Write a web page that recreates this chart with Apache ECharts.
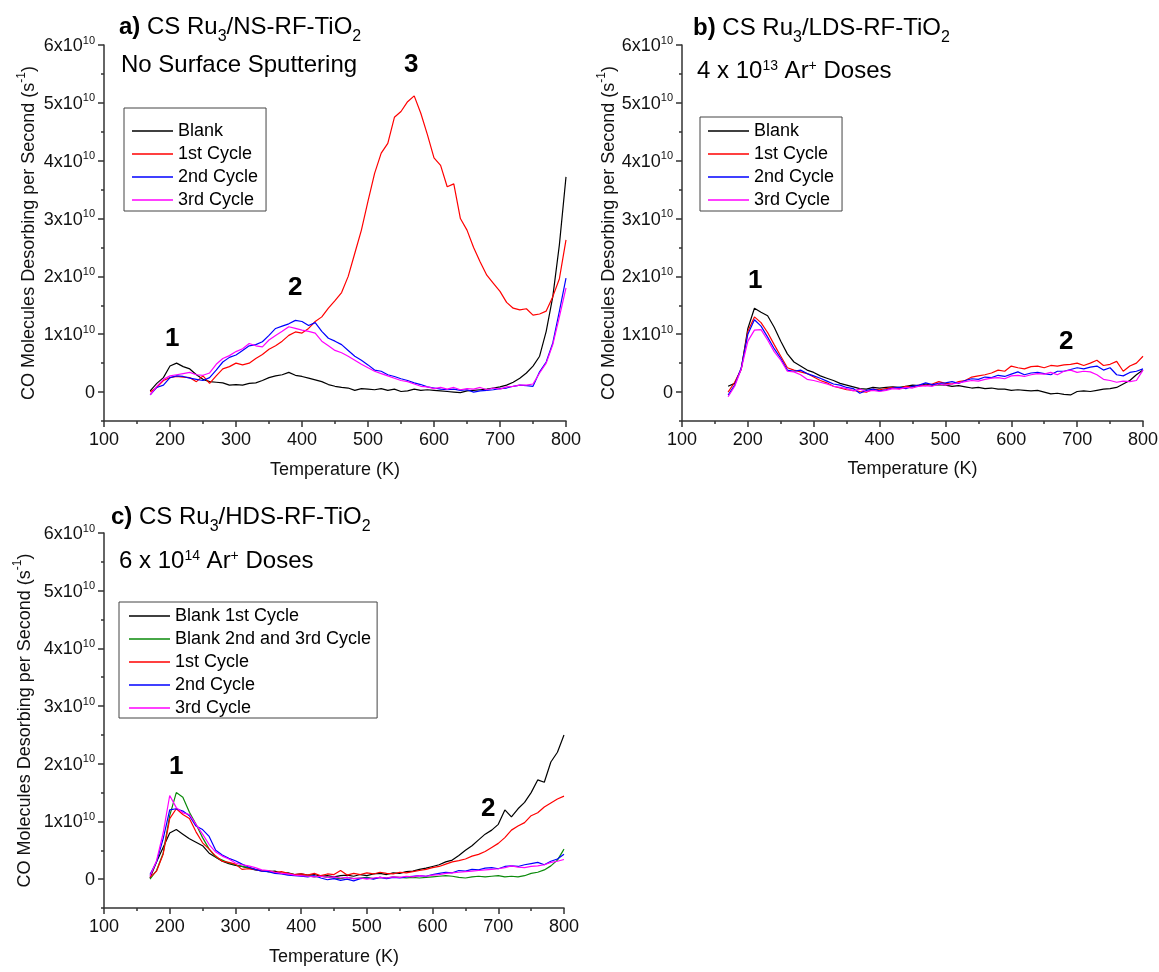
<!DOCTYPE html>
<html>
<head>
<meta charset="utf-8">
<script src="https://cdn.jsdelivr.net/npm/echarts@6/dist/echarts.min.js"></script>
<style>
html, body { margin: 0; padding: 0; background: #fff; }
#chart { width: 1159px; height: 972px; }
</style>
</head>
<body>
<div id="chart"></div>
<script>
// Temperature (K) at which each desorption rate was sampled
const temperatures = [
  170, 180, 190, 200, 210, 220, 230, 240, 250, 260,
  270, 280, 290, 300, 310, 320, 330, 340, 350, 360,
  370, 380, 390, 400, 410, 420, 430, 440, 450, 460,
  470, 480, 490, 500, 510, 520, 530, 540, 550, 560,
  570, 580, 590, 600, 610, 620, 630, 640, 650, 660,
  670, 680, 690, 700, 710, 720, 730, 740, 750, 760,
  770, 780, 790, 800
];

// CO molecules desorbing per second, in units of 1x10^10 s^-1
// a) CS Ru3/NS-RF-TiO2, no surface sputtering
const nsBlank = [
  0.02, 0.15, 0.25, 0.45, 0.50, 0.44, 0.40, 0.30, 0.22, 0.18,
  0.17, 0.16, 0.12, 0.13, 0.12, 0.15, 0.16, 0.20, 0.25, 0.28,
  0.30, 0.34, 0.29, 0.27, 0.24, 0.21, 0.18, 0.13, 0.10, 0.08,
  0.07, 0.03, 0.06, 0.05, 0.04, 0.06, 0.03, 0.05, 0.01, 0.02,
  0.05, 0.03, 0.04, 0.03, 0.02, 0.01, 0.00, -0.01, 0.02, 0.03,
  0.04, 0.05, 0.07, 0.09, 0.12, 0.17, 0.24, 0.33, 0.45, 0.62,
  1.05, 1.65, 2.55, 3.72
];
const nsCycle1 = [
  0.00, 0.08, 0.20, 0.25, 0.27, 0.26, 0.25, 0.18, 0.28, 0.15,
  0.28, 0.40, 0.44, 0.50, 0.47, 0.50, 0.58, 0.65, 0.74, 0.80,
  0.88, 0.98, 1.04, 1.02, 1.10, 1.22, 1.30, 1.45, 1.58, 1.72,
  2.00, 2.40, 2.80, 3.30, 3.78, 4.13, 4.30, 4.75, 4.85, 5.02,
  5.12, 4.82, 4.45, 4.05, 3.92, 3.55, 3.60, 3.00, 2.80, 2.50,
  2.25, 2.02, 1.88, 1.74, 1.55, 1.45, 1.42, 1.44, 1.33, 1.35,
  1.40, 1.65, 1.96, 2.63
];
const nsCycle2 = [
  -0.05, 0.08, 0.12, 0.25, 0.28, 0.27, 0.24, 0.22, 0.20, 0.25,
  0.38, 0.52, 0.60, 0.64, 0.72, 0.80, 0.82, 0.87, 0.98, 1.10,
  1.14, 1.18, 1.24, 1.22, 1.15, 1.20, 1.05, 0.93, 0.88, 0.82,
  0.72, 0.62, 0.55, 0.47, 0.38, 0.36, 0.30, 0.27, 0.23, 0.20,
  0.16, 0.13, 0.09, 0.07, 0.05, 0.04, 0.05, 0.03, 0.04, 0.00,
  0.02, 0.03, 0.04, 0.06, 0.07, 0.10, 0.12, 0.11, 0.10, 0.35,
  0.52, 0.85, 1.40, 1.97
];
const nsCycle3 = [
  -0.05, 0.10, 0.22, 0.28, 0.30, 0.32, 0.34, 0.30, 0.29, 0.33,
  0.48, 0.58, 0.63, 0.70, 0.75, 0.84, 0.80, 0.78, 0.90, 0.98,
  1.05, 1.13, 1.10, 1.07, 1.05, 1.02, 0.88, 0.80, 0.72, 0.68,
  0.62, 0.55, 0.48, 0.42, 0.36, 0.32, 0.28, 0.24, 0.20, 0.18,
  0.14, 0.10, 0.09, 0.06, 0.08, 0.05, 0.08, 0.04, 0.06, 0.05,
  0.08, 0.04, 0.07, 0.05, 0.09, 0.10, 0.12, 0.12, 0.14, 0.33,
  0.50, 0.82, 1.30, 1.80
];

// b) CS Ru3/LDS-RF-TiO2, 4 x 10^13 Ar+ doses
const ldsBlank = [
  0.10, 0.15, 0.40, 1.10, 1.45, 1.38, 1.32, 1.12, 0.88, 0.66,
  0.52, 0.45, 0.38, 0.34, 0.28, 0.24, 0.20, 0.15, 0.12, 0.09,
  0.06, 0.05, 0.08, 0.07, 0.08, 0.09, 0.08, 0.10, 0.12, 0.11,
  0.14, 0.12, 0.13, 0.12, 0.10, 0.11, 0.09, 0.07, 0.08, 0.06,
  0.07, 0.05, 0.05, 0.03, 0.04, 0.03, 0.02, 0.03, 0.00, -0.03,
  -0.02, -0.04, -0.05, 0.01, 0.02, 0.01, 0.03, 0.05, 0.06, 0.08,
  0.14, 0.20, 0.30, 0.38
];
const ldsCycle1 = [
  0.00, 0.17, 0.40, 1.05, 1.30, 1.20, 1.03, 0.82, 0.62, 0.42,
  0.38, 0.35, 0.32, 0.26, 0.20, 0.16, 0.10, 0.07, 0.04, 0.03,
  0.01, 0.00, 0.05, 0.04, 0.06, 0.08, 0.06, 0.10, 0.09, 0.12,
  0.11, 0.14, 0.18, 0.15, 0.14, 0.18, 0.20, 0.26, 0.28, 0.30,
  0.33, 0.38, 0.36, 0.45, 0.42, 0.40, 0.44, 0.45, 0.42, 0.46,
  0.45, 0.47, 0.48, 0.50, 0.46, 0.50, 0.55, 0.46, 0.48, 0.53,
  0.36, 0.45, 0.50, 0.62
];
const ldsCycle2 = [
  -0.05, 0.12, 0.42, 1.00, 1.25, 1.14, 0.95, 0.75, 0.58, 0.38,
  0.36, 0.38, 0.32, 0.28, 0.24, 0.19, 0.14, 0.12, 0.08, 0.06,
  -0.02, 0.03, 0.05, 0.02, 0.04, 0.07, 0.08, 0.06, 0.10, 0.12,
  0.16, 0.13, 0.15, 0.16, 0.18, 0.15, 0.20, 0.23, 0.22, 0.26,
  0.25, 0.29, 0.27, 0.31, 0.35, 0.30, 0.33, 0.34, 0.32, 0.30,
  0.36, 0.36, 0.39, 0.42, 0.40, 0.43, 0.45, 0.38, 0.42, 0.30,
  0.28, 0.34, 0.36, 0.40
];
const ldsCycle3 = [
  -0.08, 0.10, 0.40, 0.88, 1.07, 1.08, 0.90, 0.70, 0.55, 0.36,
  0.35, 0.30, 0.22, 0.20, 0.17, 0.14, 0.10, 0.08, 0.06, 0.02,
  0.05, 0.01, 0.03, 0.01, 0.03, 0.06, 0.05, 0.08, 0.07, 0.10,
  0.11, 0.10, 0.14, 0.12, 0.14, 0.16, 0.18, 0.20, 0.19, 0.22,
  0.24, 0.25, 0.23, 0.28, 0.29, 0.27, 0.30, 0.32, 0.31, 0.34,
  0.30, 0.36, 0.38, 0.34, 0.36, 0.35, 0.30, 0.22, 0.20, 0.17,
  0.19, 0.18, 0.20, 0.38
];

// c) CS Ru3/HDS-RF-TiO2, 6 x 10^14 Ar+ doses
const hdsBlank1 = [
  0.02, 0.30, 0.55, 0.80, 0.86, 0.78, 0.70, 0.64, 0.58, 0.45,
  0.38, 0.31, 0.27, 0.24, 0.22, 0.19, 0.16, 0.15, 0.13, 0.14,
  0.10, 0.11, 0.08, 0.09, 0.07, 0.08, 0.05, 0.06, 0.04, 0.06,
  0.07, 0.05, 0.08, 0.06, 0.09, 0.10, 0.08, 0.11, 0.10, 0.13,
  0.14, 0.17, 0.19, 0.22, 0.25, 0.30, 0.33, 0.41, 0.50, 0.58,
  0.68, 0.78, 0.85, 0.95, 1.20, 1.08, 1.22, 1.33, 1.50, 1.72,
  1.68, 2.03, 2.20, 2.50
];
const hdsBlank23 = [
  0.00, 0.15, 0.45, 1.10, 1.50, 1.42, 1.16, 0.95, 0.72, 0.52,
  0.38, 0.33, 0.28, 0.25, 0.22, 0.20, 0.17, 0.15, 0.13, 0.12,
  0.10, 0.09, 0.08, 0.06, 0.06, 0.04, 0.05, 0.03, 0.02, 0.01,
  0.03, 0.01, 0.02, 0.03, 0.01, 0.03, 0.02, 0.04, 0.03, 0.02,
  0.03, 0.02, 0.03, 0.04, 0.05, 0.06, 0.05, 0.03, 0.02, 0.04,
  0.05, 0.04, 0.05, 0.06, 0.04, 0.05, 0.04, 0.06, 0.10, 0.12,
  0.16, 0.23, 0.33, 0.52
];
const hdsCycle1 = [
  0.03, 0.14, 0.43, 1.05, 1.22, 1.12, 1.05, 0.82, 0.63, 0.52,
  0.40, 0.31, 0.29, 0.26, 0.17, 0.18, 0.17, 0.14, 0.15, 0.12,
  0.13, 0.10, 0.08, 0.09, 0.07, 0.10, 0.06, 0.09, 0.08, 0.15,
  0.07, 0.10, 0.08, 0.11, 0.09, 0.12, 0.10, 0.09, 0.12, 0.11,
  0.13, 0.15, 0.17, 0.20, 0.22, 0.26, 0.30, 0.32, 0.35, 0.40,
  0.43, 0.48, 0.55, 0.62, 0.72, 0.85, 0.92, 0.98, 1.10, 1.15,
  1.25, 1.32, 1.39, 1.44
];
const hdsCycle2 = [
  0.08, 0.30, 0.70, 1.20, 1.22, 1.18, 1.10, 0.92, 0.86, 0.74,
  0.50, 0.42, 0.36, 0.32, 0.26, 0.21, 0.17, 0.14, 0.13, 0.10,
  0.09, 0.07, 0.06, 0.05, 0.04, 0.06, 0.02, -0.01, 0.01, -0.02,
  0.00, -0.03, 0.01, 0.02, 0.00, 0.03, 0.01, 0.03, 0.02, 0.04,
  0.05, 0.06, 0.05, 0.08, 0.10, 0.12, 0.11, 0.15, 0.14, 0.17,
  0.16, 0.19, 0.20, 0.18, 0.22, 0.23, 0.22, 0.25, 0.27, 0.29,
  0.25, 0.31, 0.35, 0.43
];
const hdsCycle3 = [
  0.05, 0.32, 0.80, 1.45, 1.24, 1.15, 1.12, 0.95, 0.78, 0.60,
  0.47, 0.40, 0.35, 0.28, 0.25, 0.23, 0.20, 0.16, 0.15, 0.12,
  0.10, 0.09, 0.07, 0.06, 0.05, 0.04, 0.05, 0.03, 0.04, 0.02,
  0.03, 0.01, 0.02, 0.00, 0.02, 0.03, 0.02, 0.04, 0.03, 0.05,
  0.04, 0.06, 0.05, 0.07, 0.08, 0.10, 0.11, 0.12, 0.13, 0.14,
  0.15, 0.16, 0.17, 0.18, 0.20, 0.23, 0.21, 0.20, 0.22, 0.23,
  0.25, 0.29, 0.31, 0.34
];

// Axis ticks
const xTickLabels = [100, 200, 300, 400, 500, 600, 700, 800];
const yTickLabels = [0, 1, 2, 3, 4, 5, 6];

const FONT = '"Liberation Sans", Arial, sans-serif';
const AXIS_COLOR = '#333';
const TEXT_COLOR = '#111';

const COLORS = {
  black: '#000000',
  green: '#0a8a0a',
  red: '#ff0000',
  blue: '#0000ff',
  magenta: '#ff00ff'
};

const panels = [
  {
    grid: { left: 104, top: 45, width: 462, height: 376 },
    yNameGap: 66, xNameGap: 40,
    legend: { left: 124, top: 108, padding: [14, 8, 2, 8] },
    lines: [
      ['Blank', nsBlank, COLORS.black],
      ['1st Cycle', nsCycle1, COLORS.red],
      ['2nd Cycle', nsCycle2, COLORS.blue],
      ['3rd Cycle', nsCycle3, COLORS.magenta]
    ]
  },
  {
    grid: { left: 682, top: 45, width: 461, height: 376 },
    yNameGap: 60, xNameGap: 39,
    legend: { left: 700, top: 117, padding: [5, 8, 2, 8] },
    lines: [
      ['Blank', ldsBlank, COLORS.black],
      ['1st Cycle', ldsCycle1, COLORS.red],
      ['2nd Cycle', ldsCycle2, COLORS.blue],
      ['3rd Cycle', ldsCycle3, COLORS.magenta]
    ]
  },
  {
    grid: { left: 104, top: 533, width: 460, height: 375 },
    yNameGap: 70, xNameGap: 40,
    legend: { left: 119, top: 602, padding: [5, 6, 1, 10] },
    lines: [
      ['Blank 1st Cycle', hdsBlank1, COLORS.black],
      ['Blank 2nd and 3rd Cycle', hdsBlank23, COLORS.green],
      ['1st Cycle', hdsCycle1, COLORS.red],
      ['2nd Cycle', hdsCycle2, COLORS.blue],
      ['3rd Cycle', hdsCycle3, COLORS.magenta]
    ]
  }
];

const grids = [];
const xAxes = [];
const yAxes = [];
const series = [];
const legends = [];

panels.forEach((p, i) => {
  grids.push(Object.assign({ outerBoundsMode: 'none', containLabel: false }, p.grid));

  // main x axis: line, long ticks, labels, title
  xAxes.push({
    gridIndex: i, type: 'value', min: 100, max: 800, interval: 50,
    axisLine: { show: true, onZero: false, lineStyle: { color: AXIS_COLOR, width: 1.5 } },
    axisTick: { show: true, customValues: xTickLabels, length: 6, lineStyle: { color: AXIS_COLOR, width: 1.5 } },
    axisLabel: { customValues: xTickLabels, margin: 10, fontSize: 18, fontFamily: FONT, color: TEXT_COLOR },
    splitLine: { show: false },
    name: 'Temperature (K)', nameLocation: 'middle', nameGap: p.xNameGap,
    nameTextStyle: { fontSize: 18, fontFamily: FONT, color: TEXT_COLOR }
  });
  // minor x ticks every 50 K
  xAxes.push({
    gridIndex: i, type: 'value', min: 100, max: 800, interval: 50, position: 'bottom',
    axisLine: { show: false, onZero: false },
    axisTick: { show: true, length: 3, lineStyle: { color: AXIS_COLOR, width: 1.5 } },
    axisLabel: { show: false }, splitLine: { show: false }
  });

  yAxes.push({
    gridIndex: i, type: 'value', min: -0.5, max: 6, interval: 0.5,
    axisLine: { show: true, onZero: false, lineStyle: { color: AXIS_COLOR, width: 1.5 } },
    axisTick: { show: true, customValues: yTickLabels, length: 6, lineStyle: { color: AXIS_COLOR, width: 1.5 } },
    axisLabel: {
      customValues: yTickLabels, margin: 9,
      formatter: v => (v === 0 ? '{m|0}' : '{m|' + v + 'x10}{s|10}'),
      rich: {
        m: { fontSize: 18, lineHeight: 20, verticalAlign: 'bottom', fontFamily: FONT, color: TEXT_COLOR },
        s: { fontSize: 11, lineHeight: 11, verticalAlign: 'top', fontFamily: FONT, color: TEXT_COLOR }
      }
    },
    splitLine: { show: false },
    name: '{n|CO Molecules Desorbing per Second (s}{s|-1}{n|)}',
    nameLocation: 'middle', nameGap: p.yNameGap,
    nameTextStyle: {
      rich: {
        n: { fontSize: 18, lineHeight: 22, verticalAlign: 'bottom', fontFamily: FONT, color: TEXT_COLOR },
        s: { fontSize: 12, lineHeight: 12, verticalAlign: 'top', fontFamily: FONT, color: TEXT_COLOR }
      }
    }
  });
  // minor y ticks every 0.5 x10^10
  yAxes.push({
    gridIndex: i, type: 'value', min: -0.5, max: 6, interval: 0.5, position: 'left',
    axisLine: { show: false, onZero: false },
    axisTick: { show: true, length: 3, lineStyle: { color: AXIS_COLOR, width: 1.5 } },
    axisLabel: { show: false }, splitLine: { show: false }
  });

  p.lines.forEach(([name, values, color]) => {
    series.push({
      type: 'line', name,
      xAxisIndex: 2 * i, yAxisIndex: 2 * i,
      data: temperatures.map((t, k) => [t, values[k]]),
      symbol: 'none', showSymbol: false,
      color,
      lineStyle: { color, width: 1.2 },
      emphasis: { disabled: true },
      animation: false
    });
  });

  legends.push({
    orient: 'vertical',
    left: p.legend.left, top: p.legend.top, padding: p.legend.padding,
    data: p.lines.map(l => ({ name: l[0], icon: 'rect' })),
    itemWidth: 41, itemHeight: 1.5, itemGap: 5,
    borderColor: '#444', borderWidth: 1, borderRadius: 0,
    selectedMode: false,
    textStyle: { fontSize: 18, lineHeight: 18, fontFamily: FONT, color: '#000' }
  });
});

// Panel headings, dose notes and peak numbers
const headRich = {
  b: { fontSize: 24, fontWeight: 'bold', lineHeight: 30, verticalAlign: 'top', fontFamily: FONT, color: '#000' },
  n: { fontSize: 24, fontWeight: 'normal', lineHeight: 30, verticalAlign: 'top', fontFamily: FONT, color: '#000' },
  sub: { fontSize: 16, fontWeight: 'normal', lineHeight: 16, verticalAlign: 'bottom', fontFamily: FONT, color: '#000' },
  sup: { fontSize: 14, fontWeight: 'normal', lineHeight: 10, verticalAlign: 'top', fontFamily: FONT, color: '#000' },
  p: { fontSize: 26, fontWeight: 'bold', lineHeight: 28, verticalAlign: 'top', fontFamily: FONT, color: '#000' }
};
const texts = [
  { text: '{b|a)}{n| CS Ru}{sub|3}{n|/NS-RF-TiO}{sub|2}', left: 119, top: 15 },
  { text: '{n|No Surface Sputtering}', left: 121, top: 53 },
  { text: '{b|b)}{n| CS Ru}{sub|3}{n|/LDS-RF-TiO}{sub|2}', left: 693, top: 16 },
  { text: '{n|4 x 10}{sup|13}{n| Ar}{sup|+}{n| Doses}', left: 697, top: 59 },
  { text: '{b|c)}{n| CS Ru}{sub|3}{n|/HDS-RF-TiO}{sub|2}', left: 111, top: 505 },
  { text: '{n|6 x 10}{sup|14}{n| Ar}{sup|+}{n| Doses}', left: 119, top: 549 },
  { text: '{p|1}', left: 165, top: 326 },
  { text: '{p|2}', left: 288, top: 275 },
  { text: '{p|3}', left: 404, top: 52 },
  { text: '{p|1}', left: 748, top: 268 },
  { text: '{p|2}', left: 1059, top: 329 },
  { text: '{p|1}', left: 169, top: 754 },
  { text: '{p|2}', left: 481, top: 796 }
];
const titles = texts.map(t => ({
  text: t.text, left: t.left, top: t.top, padding: 0,
  textStyle: { rich: headRich, fontFamily: FONT, color: '#000' }
}));

const chart = echarts.init(document.getElementById('chart'), null, { renderer: 'canvas' });
chart.setOption({
  animation: false,
  backgroundColor: '#ffffff',
  textStyle: { fontFamily: FONT },
  title: titles,
  grid: grids,
  xAxis: xAxes,
  yAxis: yAxes,
  legend: legends,
  series
});
</script>
</body>
</html>
